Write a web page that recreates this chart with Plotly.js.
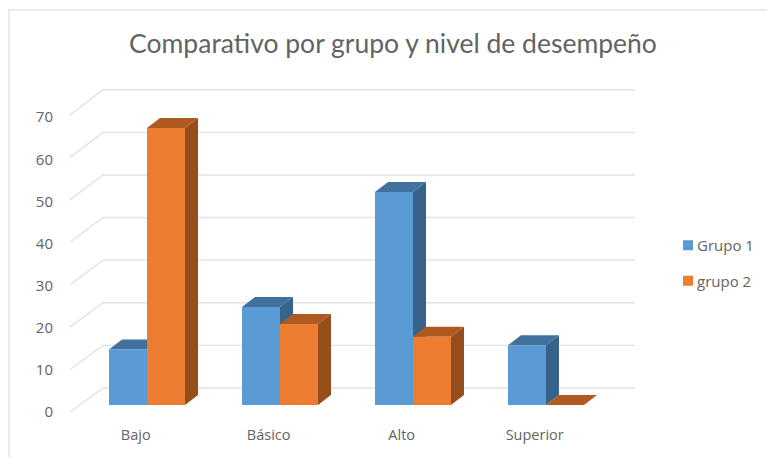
<!DOCTYPE html>
<html><head><meta charset="utf-8">
<script src="https://cdn.plot.ly/plotly-3.0.1.min.js"></script>
<style>html,body{margin:0;padding:0;background:#fff}</style></head>
<body><div id="c" style="width:767px;height:457px"></div>
<script>
const categories = ["Bajo","Básico","Alto","Superior"];
const grupo1 = [13,23,50,14];
const grupo2 = [65,19,16,0];
const yTicks = [0,10,20,30,40,50,60,70];
const seriesNames = ["Grupo 1","grupo 2"];

const W=767,H=457,L=54,R=765,T=80,B=424;
const pxPerCat=133, pxPerVal=4.26, cat0Px=147, zeroPx=405;
const xRange=[(L-cat0Px)/pxPerCat,(R-cat0Px)/pxPerCat];
const yRange=[(zeroPx-B)/pxPerVal,(zeroPx-T)/pxPerVal];
const barW=38/pxPerCat, dx=13/pxPerCat, dy=10/pxPerVal;
const gridFrontX=(70-cat0Px)/pxPerCat, gridBackX=(103-cat0Px)/pxPerCat, gridEndX=(635-cat0Px)/pxPerCat;
const gridColor='#e2e2e2', textColor='#636363', font='"Open Sans", sans-serif';

const traces=[];
yTicks.forEach(v=>{
  traces.push({type:'scatter',mode:'lines',showlegend:false,hoverinfo:'skip',
    x:[gridFrontX,gridBackX,gridEndX],y:[v*0.996-1.64,v+4,v+4],
    line:{color:gridColor,width:1.4}});
});
function faces(vals,offset,topCol,sideCol){
  vals.forEach((v,k)=>{
    const x0=k+offset, x1=x0+barW;
    traces.push({type:'scatter',mode:'lines',fill:'toself',fillcolor:sideCol,showlegend:false,hoverinfo:'skip',
      line:{width:0,color:sideCol},
      x:[x1,x1+dx,x1+dx,x1,x1],y:[0,dy,v+dy,v,0]});
    traces.push({type:'scatter',mode:'lines',fill:'toself',fillcolor:topCol,showlegend:false,hoverinfo:'skip',
      line:{width:0,color:topCol},
      x:[x0,x1,x1+dx,x0+dx,x0],y:[v,v,v+dy,v+dy,v]});
  });
}
faces(grupo1,-barW,'#41719c','#37638a');
faces(grupo2,0,'#ae5a21','#964f1c');
traces.push({type:'bar',name:seriesNames[0],legendgroup:'a',x:categories.map((c,k)=>k),y:grupo1,xaxis:'x2',yaxis:'y2',marker:{color:'#5b9bd5'}});
traces.push({type:'bar',name:seriesNames[1],legendgroup:'b',x:categories.map((c,k)=>k),y:grupo2,xaxis:'x2',yaxis:'y2',marker:{color:'#ed7d31'}});

const layout={
  width:W,height:H,paper_bgcolor:'#fff',plot_bgcolor:'rgba(0,0,0,0)',
  margin:{l:L,r:W-R,t:T,b:H-B,pad:0},
  title:{text:'Comparativo por grupo y nivel de desempeño',font:{family:'Lato, sans-serif',size:26.5,color:'#636363'},x:393/W,xanchor:'center',y:1-44/H,yanchor:'middle'},
  barmode:'group',bargap:1-2*barW,bargroupgap:0,
  xaxis:{range:xRange,tickvals:categories.map((c,k)=>k-0.085),ticktext:categories,showgrid:false,zeroline:false,showline:false,ticks:'',
    tickfont:{family:font,size:14.5,color:textColor},fixedrange:true},
  yaxis:{range:yRange,tickvals:yTicks.map(v=>v*0.9885-1.64),ticktext:yTicks.map(String),showgrid:false,zeroline:false,showline:false,ticks:'',
    tickfont:{family:font,size:15,color:textColor},fixedrange:true},
  xaxis2:{overlaying:'x',range:xRange,visible:false,fixedrange:true},
  yaxis2:{overlaying:'y',range:yRange,visible:false,fixedrange:true},
  legend:{x:(667-L)/(R-L),xanchor:'left',y:1-(229-T)/(B-T),yanchor:'top',bgcolor:'rgba(0,0,0,0)',
    font:{family:font,size:15,color:textColor},tracegroupgap:13,indentation:-10,itemclick:false,itemdoubleclick:false},
  shapes:[
    {type:'line',xref:'paper',yref:'paper',x0:(9-L)/(R-L),x1:(9-L)/(R-L),y0:(B-H)/(B-T),y1:(B-10)/(B-T),line:{color:'#e4e4e4',width:1.5}},
    {type:'line',xref:'paper',yref:'paper',x0:(8-L)/(R-L),x1:(W-L)/(R-L),y0:(B-10)/(B-T),y1:(B-10)/(B-T),line:{color:'#e4e4e4',width:1.5}}
  ]
};
Plotly.newPlot('c',traces,layout,{displayModeBar:false,staticPlot:true}).then(()=>{
  // legend swatches sit closer to their text, and are a little smaller, in the reference
  document.querySelectorAll('.legend .legendpoints').forEach(g=>{
    g.setAttribute('transform','translate(11,0)');
    g.querySelectorAll('path').forEach(p=>p.setAttribute('d','M5,5H-5V-5H5Z'));
  });
});
</script></body></html>
